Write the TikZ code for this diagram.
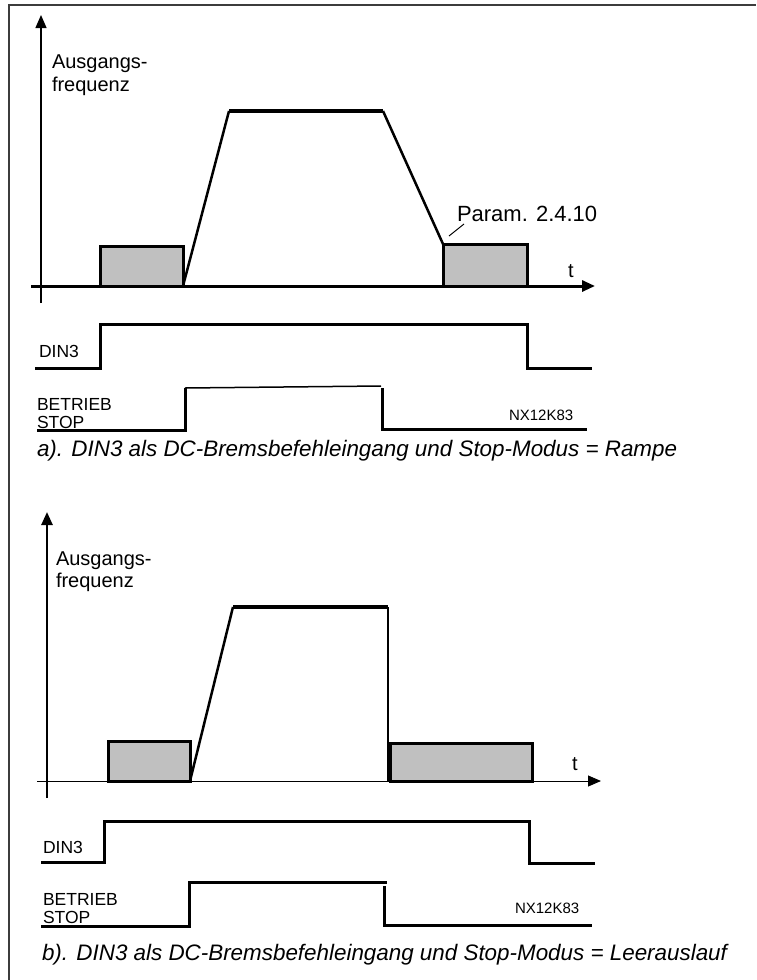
\documentclass[tikz,border=0pt]{standalone}
\usepackage{fontspec}
\setmainfont{Liberation Sans}
\usetikzlibrary{arrows.meta}
\definecolor{boxgray}{RGB}{192,192,192}
\definecolor{framegray}{RGB}{60,60,60}
\tikzset{
  lbl/.style={anchor=base west, inner sep=0pt, outer sep=0pt},
  axlbl/.style={lbl, font=\fontsize{20}{22}\selectfont},
  siglbl/.style={lbl, font=\fontsize{17.5}{19}\selectfont},
  codelbl/.style={lbl, font=\fontsize{15}{16}\selectfont},
  caplbl/.style={lbl, font=\fontsize{22.4}{24}\selectfont\itshape},
  parlbl/.style={lbl, font=\fontsize{22}{24}\selectfont},
  arr/.style={-{Triangle[length=13pt,width=11pt]}},
  brk/.style={line width=3pt, fill=boxgray},
  ramp/.style={line width=2.5pt},
  flat/.style={line width=4pt},
  sig/.style={line width=3pt},
}
\begin{document}
\begin{tikzpicture}[x=1pt,y=-1pt, line join=miter]
\useasboundingbox (0,0) rectangle (756,980);
% frame
\draw[framegray, line width=2.2pt] (9,980) -- (9,5) -- (756,5);

% ================= panel a =================
\draw[line width=1.2pt, arr] (41,303) -- (41,15);
\draw[line width=3pt, arr] (31,286) -- (595,286);
\node[axlbl] (aA) at (52,68) {Ausgangs-};
\node[axlbl] (aF) at (52,91) {frequenz};
\node[axlbl] (aT) at (568,277) {t};
\draw[brk] (100,246) rectangle (183,286);
\draw[ramp] (183,286) -- (229,111);
\draw[flat] (229,111) -- (383,111);
\draw[ramp] (383,111) -- (443,244);
\draw[brk] (443,244) rectangle (527,286);
\node[parlbl] (aP) at (457,221) {Param. 2.4.10};
\draw[line width=1pt] (449,236) -- (464,224);
% DIN3
\node[siglbl] (aD) at (39,357) {DIN3};
\draw[sig] (35,368) -| (100,324) -| (527,368) -- (592,368);
% BETRIEB / STOP
\node[siglbl] (aB) at (37,410) {BETRIEB};
\node[siglbl] (aS) at (37,428) {STOP};
\draw[sig] (37,430) -| (185,388);
\draw[line width=1.5pt] (185,388) -- (381,386);
\draw[sig] (382,388) |- (587,429);
\node[codelbl] (aN) at (509,420) {NX12K83};
\node[caplbl] (aC) at (37,456) {a). DIN3 als DC-Bremsbefehleingang und Stop-Modus = Rampe};

% ================= panel b =================
\draw[line width=2.5pt, arr] (47,798) -- (47,512);
\draw[line width=1pt, arr] (37,781) -- (601,781);
\node[axlbl] (bA) at (56,565) {Ausgangs-};
\node[axlbl] (bF) at (56,587) {frequenz};
\node[axlbl] (bT) at (572,770) {t};
\draw[brk] (108,741) rectangle (190,781);
\draw[ramp] (190,781) -- (233,607);
\draw[flat] (233,607) -- (388,607);
\draw[ramp] (388,607) -- (388,781);
\draw[brk] (390,743) rectangle (532,781);
% DIN3
\node[siglbl] (bD) at (43,853) {DIN3};
\draw[sig] (41,862) -| (104,821) -| (529,863) -- (595,863);
% BETRIEB / STOP
\node[siglbl] (bB) at (43,905) {BETRIEB};
\node[siglbl] (bS) at (43,923) {STOP};
\draw[sig] (41,926) -| (189,882) -- (387,882);
\draw[sig] (384,886) |- (592,925);
\node[codelbl] (bN) at (515,913) {NX12K83};
\node[caplbl] (bC) at (42,960) {b). DIN3 als DC-Bremsbefehleingang und Stop-Modus = Leerauslauf};
\end{tikzpicture}
\end{document}
